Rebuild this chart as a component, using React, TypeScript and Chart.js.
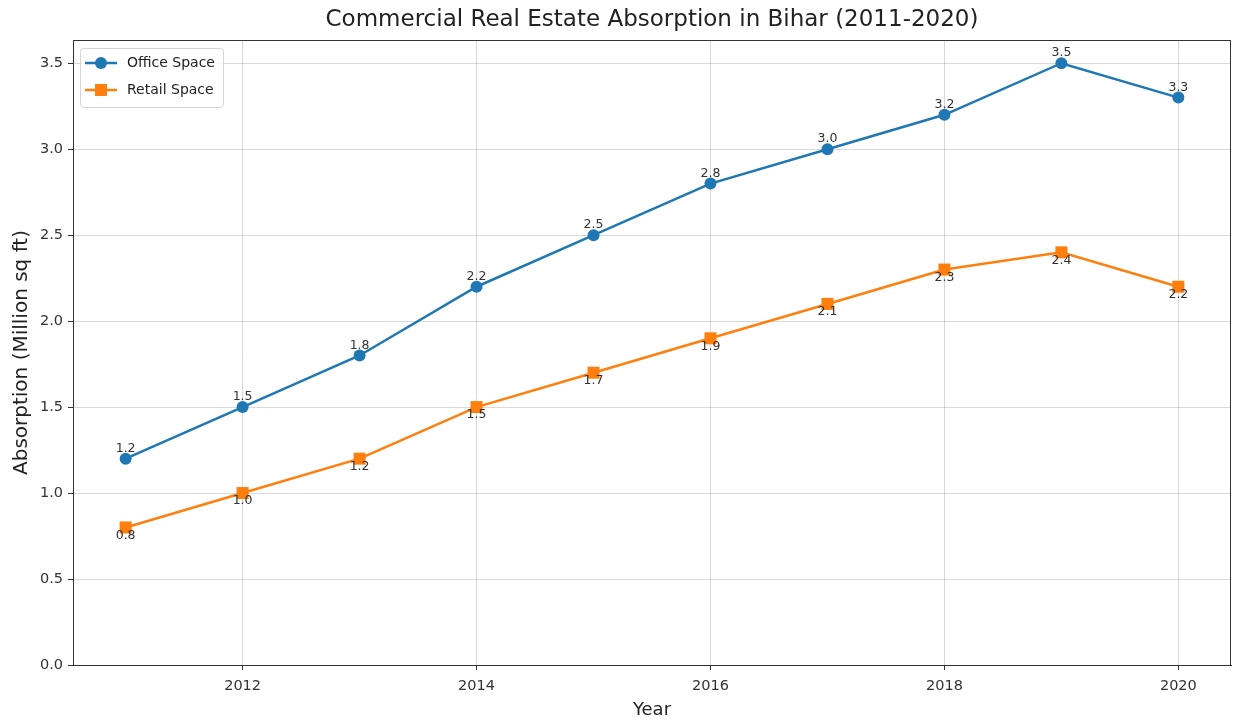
import React, { useEffect, useRef } from "react";
import { Chart, registerables } from "chart.js";

Chart.register(...registerables);

const years = [2011, 2012, 2013, 2014, 2015, 2016, 2017, 2018, 2019, 2020];
const officeSpace = [1.2, 1.5, 1.8, 2.2, 2.5, 2.8, 3.0, 3.2, 3.5, 3.3];
const retailSpace = [0.8, 1.0, 1.2, 1.5, 1.7, 1.9, 2.1, 2.3, 2.4, 2.2];
const xTickValues = [2012, 2014, 2016, 2018, 2020];
const yTickValues = [0, 0.5, 1.0, 1.5, 2.0, 2.5, 3.0, 3.5];
const seriesNames = ["Office Space", "Retail Space"];
const titleText = "Commercial Real Estate Absorption in Bihar (2011-2020)";
const xTitle = "Year";
const yTitle = "Absorption (Million sq ft)";

const BLUE = "#1f77b4";
const ORANGE = "#ff7f0e";
const FONT = "'DejaVu Sans', sans-serif";

const titlePlugin = {
  id: "centeredTitle",
  afterDraw(chart: any) {
    const { ctx, chartArea } = chart;
    ctx.save();
    ctx.font = `23px ${FONT}`;
    ctx.fillStyle = "#222";
    ctx.textAlign = "center";
    ctx.textBaseline = "middle";
    ctx.fillText(titleText, (chartArea.left + chartArea.right) / 2, 20);
    ctx.restore();
  },
};

const framePlugin = {
  id: "frame",
  afterDatasetsDraw(chart: any) {
    const { ctx, chartArea } = chart;
    ctx.save();
    ctx.strokeStyle = "#333";
    ctx.lineWidth = 1;
    ctx.strokeRect(chartArea.left + 0.5, chartArea.top + 0.5, chartArea.right - chartArea.left - 1, chartArea.bottom - chartArea.top);
    ctx.restore();
  },
};

const labelPlugin = {
  id: "valueLabels",
  afterDatasetsDraw(chart: any) {
    const { ctx } = chart;
    ctx.save();
    ctx.font = `12.5px ${FONT}`;
    ctx.fillStyle = "#333";
    ctx.textAlign = "center";
    ctx.textBaseline = "middle";
    chart.data.datasets.forEach((ds: any, i: number) => {
      const meta = chart.getDatasetMeta(i);
      meta.data.forEach((pt: any, j: number) => {
        const v = ds.data[j].y;
        const dy = i === 0 ? -10 : 8;
        ctx.fillText(v.toFixed(1), pt.x, pt.y + dy);
      });
    });
    ctx.restore();
  },
};

const legendPlugin = {
  id: "innerLegend",
  afterDraw(chart: any) {
    const { ctx, chartArea } = chart;
    const x0 = chartArea.left + 7;
    const y0 = chartArea.top + 8;
    const w = 143;
    const h = 59;
    ctx.save();
    ctx.fillStyle = "rgba(255,255,255,0.8)";
    ctx.strokeStyle = "#d5d5d5";
    ctx.lineWidth = 1;
    ctx.beginPath();
    (ctx as any).roundRect(x0 + 0.5, y0 + 0.5, w, h, 3);
    ctx.fill();
    ctx.stroke();
    const colors = [BLUE, ORANGE];
    seriesNames.forEach((name, i) => {
      const cy = y0 + 15 + i * 27;
      ctx.strokeStyle = colors[i];
      ctx.lineWidth = 2.5;
      ctx.beginPath();
      ctx.moveTo(x0 + 5, cy);
      ctx.lineTo(x0 + 37, cy);
      ctx.stroke();
      ctx.fillStyle = colors[i];
      if (i === 0) {
        ctx.beginPath();
        ctx.arc(x0 + 21, cy, 6, 0, Math.PI * 2);
        ctx.fill();
      } else {
        ctx.fillRect(x0 + 15, cy - 6, 12, 12);
      }
      ctx.fillStyle = "#222";
      ctx.font = `14px ${FONT}`;
      ctx.textAlign = "left";
      ctx.textBaseline = "middle";
      ctx.fillText(name, x0 + 47, cy);
    });
    ctx.restore();
  },
};

export default function App() {
  const ref = useRef<HTMLCanvasElement | null>(null);
  useEffect(() => {
    if (!ref.current) return;
    const grid = {
      color: "rgba(0,0,0,0.15)",
      borderDash: [4, 2],
      lineWidth: 1,
      tickLength: 5,
      tickColor: "#333",
      tickBorderDash: [],
      tickWidth: 1,
    };
    const chart = new Chart(ref.current, {
      type: "line",
      data: {
        datasets: [
          {
            label: seriesNames[0],
            data: years.map((y, i) => ({ x: y, y: officeSpace[i] })),
            borderColor: BLUE,
            backgroundColor: BLUE,
            borderWidth: 2.5,
            pointStyle: "circle",
            pointRadius: 6,
            pointBorderWidth: 0,
            tension: 0,
          },
          {
            label: seriesNames[1],
            data: years.map((y, i) => ({ x: y, y: retailSpace[i] })),
            borderColor: ORANGE,
            backgroundColor: ORANGE,
            borderWidth: 2.5,
            pointStyle: "rect",
            pointRadius: 8.5,
            pointBorderWidth: 0,
            tension: 0,
          },
        ],
      },
      options: {
        responsive: false,
        animation: false,
        devicePixelRatio: 1,
        layout: { autoPadding: false, padding: { left: 0, right: 2, top: 40, bottom: 0 } },
        plugins: {
          legend: { display: false },
          tooltip: { enabled: false },
          title: { display: false },
        },
        scales: {
          x: {
            type: "linear",
            min: 2010.55,
            max: 2020.45,
            afterBuildTicks: (scale: any) => {
              scale.ticks = xTickValues.map((v) => ({ value: v }));
            },
            afterFit: (scale: any) => {
              scale.height = 57;
              scale.paddingLeft = 0;
              scale.paddingRight = 0;
            },
            grid: grid as any,
            border: { display: true, color: "#333", width: 1 },
            ticks: {
              color: "#333",
              padding: 8,
              maxRotation: 0,
              autoSkip: false,
              font: { family: FONT, size: 14.5 },
              callback: (v: any) => String(v),
            },
            title: {
              display: true,
              text: xTitle,
              color: "#222",
              font: { family: FONT, size: 18 },
              padding: { top: 0, bottom: 1 },
            },
          },
          y: {
            type: "linear",
            min: 0,
            max: 3.635,
            afterBuildTicks: (scale: any) => {
              scale.ticks = yTickValues.map((v) => ({ value: v }));
            },
            afterFit: (scale: any) => {
              scale.width = 73;
              scale.paddingTop = 0;
              scale.paddingBottom = 0;
            },
            grid: grid as any,
            border: { display: true, color: "#333", width: 1 },
            ticks: {
              color: "#333",
              padding: 5,
              autoSkip: false,
              font: { family: FONT, size: 14.5 },
              callback: (v: any) => Number(v).toFixed(1),
            },
            title: {
              display: true,
              text: yTitle,
              color: "#222",
              font: { family: FONT, size: 20 },
              padding: { top: 10, bottom: 0 },
            },
          },
        },
      } as any,
      plugins: [framePlugin, labelPlugin, legendPlugin, titlePlugin],
    });
    return () => chart.destroy();
  }, []);
  return (
    <div style={{ position: "absolute", left: 0, top: 0, width: 1233, height: 722, background: "#fff" }}>
      <canvas ref={ref} width={1233} height={722} />
    </div>
  );
}
